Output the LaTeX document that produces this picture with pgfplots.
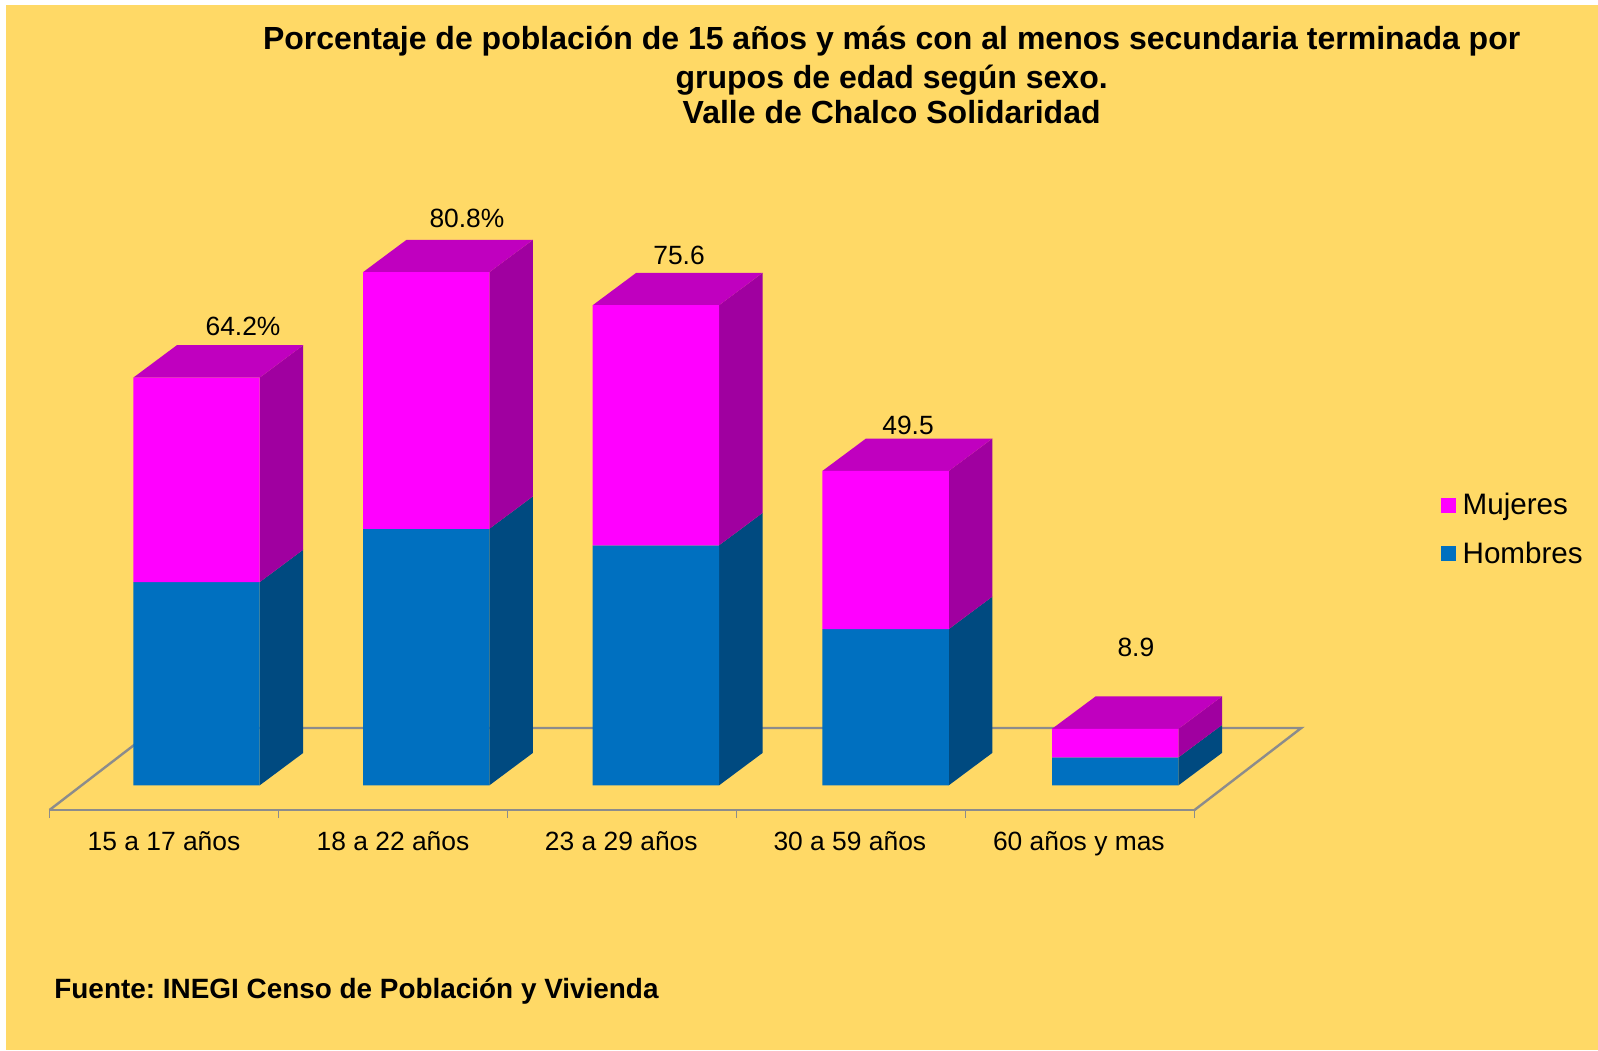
\documentclass[border=0pt]{standalone}
\usepackage{fontspec}
\setmainfont{Liberation Sans}
\usepackage{pgfplots}
\pgfplotsset{compat=1.18}
\frenchspacing

\definecolor{fondo}{HTML}{FFD966}
\definecolor{muj}{HTML}{FF00FF}
\definecolor{mujtop}{HTML}{C000BF}
\definecolor{mujside}{HTML}{A000A0}
\definecolor{hom}{HTML}{0070C0}
\definecolor{homside}{HTML}{004A80}
\definecolor{piso}{HTML}{8C8C8C}

% side face of a bar: x centre, y from, y to, colour
\newcommand{\sideface}[4]{%
  \pgfmathsetmacro\xa{#1+0.276}\pgfmathsetmacro\xb{#1+0.466}%
  \pgfmathsetmacro\ya{#2+5.1}\pgfmathsetmacro\yb{#3+5.1}%
  \addplot[fill=#4,draw=none,forget plot] coordinates {(\xa,#2)(\xb,\ya)(\xb,\yb)(\xa,#3)};%
}
% top face of a bar: x centre, y
\newcommand{\topface}[2]{%
  \pgfmathsetmacro\xa{#1-0.276}\pgfmathsetmacro\xb{#1+0.276}%
  \pgfmathsetmacro\xc{#1+0.466}\pgfmathsetmacro\xd{#1-0.086}\pgfmathsetmacro\ya{#2+5.1}%
  \addplot[fill=mujtop,draw=none,forget plot] coordinates {(\xa,#2)(\xb,#2)(\xc,\ya)(\xd,\ya)};%
}

\begin{document}
\begin{tikzpicture}
% page, in reference pixels from the axis origin
\begin{scope}[x=0.5pt,y=0.5pt]
  \fill[white] (-49.5,-240) rectangle (1548.5,810);
  \path[use as bounding box] (-49.5,-240) rectangle (1548.5,810);
  \fill[fondo] (-43.5,-240) rectangle (1548.5,805);
\end{scope}
\begin{axis}[
    at={(0pt,0pt)}, anchor=south west,
    x=114.5pt, y=3.175pt,
    xmin=0, xmax=5, ymin=-3.89, ymax=90,
    axis x line=bottom, axis y line=none,
    axis line style={draw=piso,line width=1.2pt,-},
    clip=false,
    xtick={0.5,1.5,2.497,3.495,4.495},
    xticklabels={15 a 17 años,18 a 22 años,23 a 29 años,30 a 59 años,60 años y mas},
    major tick length=0pt,
    minor xtick={0,1,2,3,4,5},
    minor tick length=4pt,
    tick align=outside,
    tick style={draw=piso,line width=0.7pt},
    xticklabel style={font=\fontsize{13.2}{16}\selectfont,yshift=-7pt},
    title={Porcentaje de población de 15 años y más con al menos secundaria terminada por\\grupos de edad según sexo.\\[-2pt]Valle de Chalco Solidaridad},
    title style={font=\fontsize{16}{19.4}\selectfont\bfseries,align=center,at={(0.7355,1.213)},anchor=center},
    legend style={at={(axis cs:6.073,46.7)},anchor=north west,draw=none,fill=none,
      font=\fontsize{14.8}{18}\selectfont,row sep=8pt,inner sep=0pt},
    legend cell align=left,
    reverse legend,
    legend image code/.code={\fill[#1] (-3pt,-3.75pt) rectangle (4.5pt,3.75pt);},
  ]
  % floor
  \addplot[draw=piso,line width=1.2pt,forget plot] coordinates {(0,-3.89)(0.466,9.02)(5.466,9.02)(5,-3.89)};

  % side and top faces
  \sideface{0.642}{0}{32.0}{homside}\sideface{0.642}{32.0}{64.2}{mujside}\topface{0.642}{64.2}
  \sideface{1.645}{0}{40.4}{homside}\sideface{1.645}{40.4}{80.8}{mujside}\topface{1.645}{80.8}
  \sideface{2.648}{0}{37.8}{homside}\sideface{2.648}{37.8}{75.6}{mujside}\topface{2.648}{75.6}
  \sideface{3.651}{0}{24.6}{homside}\sideface{3.651}{24.6}{49.5}{mujside}\topface{3.651}{49.5}
  \sideface{4.654}{0}{4.4}{homside}\sideface{4.654}{4.4}{8.9}{mujside}\topface{4.654}{8.9}

  % front faces
  \addplot[ybar,bar shift=0pt,bar width=0.552,stack plots=y,fill=hom,draw=none]
    coordinates {(0.642,32.0)(1.645,40.4)(2.648,37.8)(3.651,24.6)(4.654,4.4)};
  \addplot[ybar,bar shift=0pt,bar width=0.552,stack plots=y,fill=muj,draw=none]
    coordinates {(0.642,32.2)(1.645,40.4)(2.648,37.8)(3.651,24.9)(4.654,4.5)};
  \legend{\hspace*{1.5pt}Hombres,\hspace*{1.5pt}Mujeres}

  % value labels
  \begin{scope}[every node/.style={font=\fontsize{13.2}{16}\selectfont}]
    \node at (axis cs:0.845,72.3) {64.2\%};
    \node at (axis cs:1.823,89.2) {80.8\%};
    \node at (axis cs:2.749,83.4) {75.6};
    \node at (axis cs:3.749,56.75) {49.5};
    \node at (axis cs:4.744,21.65) {8.9};
  \end{scope}
\end{axis}
\begin{scope}[x=0.5pt,y=0.5pt]
  \node[anchor=west,inner sep=0pt,font=\fontsize{13.95}{16}\selectfont\bfseries] at (4.5,-181) {Fuente: INEGI Censo de Población y Vivienda};
\end{scope}
\end{tikzpicture}
\end{document}
